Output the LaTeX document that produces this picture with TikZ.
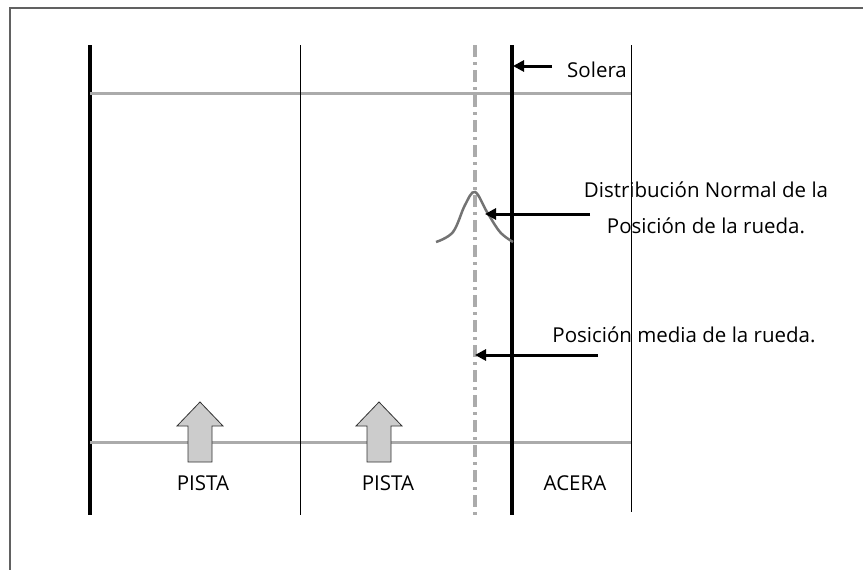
\documentclass[tikz,border=0pt]{standalone}
\usepackage{fontspec}
\setmainfont{Open Sans}
\usetikzlibrary{arrows.meta}
\begin{document}
\begin{tikzpicture}[x=1pt,y=-1pt,
  frame/.style={draw=black!62, line width=2pt},
  curb/.style={line width=4pt, black},
  laneline/.style={line width=1pt, black},
  crossline/.style={line width=3pt, color=black!33},
  meanline/.style={line width=4pt, color=black!33, dash pattern=on 12pt off 5pt on 3pt off 5pt},
  bell/.style={line width=2.5pt, color=black!55},
  pointer/.style={line width=3pt, -{Triangle[length=11pt,width=11pt]}},
  flow/.style={fill=black!20, draw=black!80, line width=0.8pt},
  lbl/.style={font=\fontsize{20.5}{36}\selectfont, inner sep=0pt, align=center}
]
\useasboundingbox (0,0) rectangle (863,570);
\fill[white] (0,0) rectangle (863,570);

% outer frame (open to the right and bottom)
\draw[frame] (10,572) -- (10,8) -- (865,8);

% verticals: edges of the road and sidewalk
\coordinate (L1t) at (90,45);  \coordinate (L1b) at (90,515);
\coordinate (L2t) at (300,45); \coordinate (L2b) at (300,515);
\coordinate (Mt)  at (475,45); \coordinate (Mb)  at (475,515);
\coordinate (Ct)  at (512,45); \coordinate (Cb)  at (512,515);
\coordinate (Rt)  at (631,45); \coordinate (Rb)  at (631,512);

\draw[curb] (L1t) -- (L1b);

% cross sections
\coordinate (H1a) at (90,93);  \coordinate (H1b) at (632,93);
\coordinate (H2a) at (90,442); \coordinate (H2b) at (632,442);
\draw[crossline] (H1a) -- (H1b);
\draw[crossline] (H2a) -- (H2b);

\draw[laneline] (L2t) -- (L2b);
\draw[laneline] (Rt) -- (Rb);
\draw[meanline] (Mt) -- (Mb);
\draw[curb] (Ct) -- (Cb);

% traffic direction arrows
\foreach \cx in {200, 379}{
  \draw[flow] (\cx-12,462) -- (\cx-12,426) -- (\cx-23,426) -- (\cx,402)
     -- (\cx+23,426) -- (\cx+12,426) -- (\cx+12,462) -- cycle;
}

% wheel position distribution
\draw[bell] plot[smooth, tension=0.6] coordinates
  {(436,242) (453,232) (465,205) (475,192) (487,212) (500,232) (513,242)};

% labels
\node[lbl, anchor=base] (p1) at (203,490) {PISTA};
\node[lbl, anchor=base] (p2) at (388,490) {PISTA};
\node[lbl, anchor=base] (ac) at (575,490) {ACERA};
\node[lbl, anchor=base west] (sol) at (567,77) {Solera};
\node[lbl, anchor=base] (dist) at (706,233) {Distribución Normal de la\\Posición de la rueda.};
\node[lbl, anchor=base] (med) at (684,342) {Posición media de la rueda.};

% pointers
\coordinate (a1s) at (552,66);  \coordinate (a1e) at (513,66);
\coordinate (a2s) at (590,214); \coordinate (a2e) at (485,214);
\coordinate (a3s) at (598,355); \coordinate (a3e) at (475,355);
\draw[pointer] (a1s) -- (a1e);
\draw[pointer] (a2s) -- (a2e);
\draw[pointer] (a3s) -- (a3e);
\end{tikzpicture}
\end{document}
